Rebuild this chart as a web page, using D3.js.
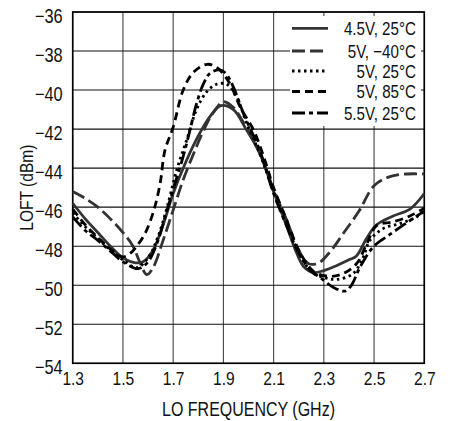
<!DOCTYPE html>
<html>
<head>
<meta charset="utf-8">
<script src="https://cdn.jsdelivr.net/npm/d3@7"></script>
<style>
  body { margin: 0; background: #fff; }
  text { font-family: "Liberation Sans", Arial, sans-serif; fill: #111; }
</style>
</head>
<body>
<div class="container"></div>
<script>
const WIDTH = 450;
const HEIGHT = 421;
const NARROW = "scale(0.82,1)";

// ticks
var xTicks = [1.3, 1.5, 1.7, 1.9, 2.1, 2.3, 2.5, 2.7];
var yTicks = [-54, -52, -50, -48, -46, -44, -42, -40, -38, -36];

// 4.5V, 25°C
var freqA = [1.3, 1.35, 1.4, 1.45, 1.5, 1.55, 1.58, 1.62, 1.66, 1.7, 1.75, 1.8, 1.85, 1.89, 1.94, 1.99, 2.045, 2.1, 2.15, 2.19, 2.22, 2.26, 2.3, 2.35, 2.4, 2.43, 2.47, 2.51, 2.576, 2.643, 2.7];
var loftA = [-45.8, -46.6, -47.3, -48.0, -48.6, -48.85, -48.8, -48.2, -46.9, -45.3, -43.7, -42.35, -41.3, -40.8, -41.0, -42.0, -43.25, -45.2, -46.9, -48.3, -49.05, -49.35, -49.25, -49.0, -48.7, -48.5, -47.6, -46.9, -46.45, -46.1, -45.3];

// 5V, -40°C
var freqB = [1.3, 1.35, 1.4, 1.45, 1.5, 1.54, 1.57, 1.595, 1.62, 1.66, 1.7, 1.74, 1.78, 1.82, 1.86, 1.9, 1.94, 1.99, 2.05, 2.1, 2.15, 2.2, 2.24, 2.28, 2.33, 2.38, 2.44, 2.5, 2.56, 2.63, 2.7];
var loftB = [-45.2, -45.55, -46.0, -46.6, -47.3, -48.0, -48.9, -49.45, -49.1, -47.7, -46.15, -44.6, -43.3, -42.1, -41.15, -40.6, -40.9, -41.9, -43.4, -45.1, -46.6, -48.2, -48.9, -48.85, -48.2, -47.3, -46.2, -44.9, -44.45, -44.3, -44.3];

// 5V, 25°C
var freqC = [1.3, 1.35, 1.4, 1.45, 1.5, 1.555, 1.6, 1.64, 1.68, 1.714, 1.754, 1.793, 1.833, 1.873, 1.913, 1.953, 1.99, 2.04, 2.1, 2.15, 2.2, 2.25, 2.3, 2.35, 2.417, 2.457, 2.483, 2.536, 2.603, 2.669, 2.7];
var loftC = [-46.3, -47.0, -47.6, -48.2, -48.7, -49.1, -48.6, -47.5, -45.8, -44.1, -42.55, -41.0, -40.1, -39.7, -39.7, -40.35, -41.6, -43.1, -45.2, -46.8, -48.3, -49.3, -49.6, -49.7, -49.4, -48.55, -47.7, -47.1, -46.84, -46.5, -46.2];

// 5V, 85°C
var freqD = [1.3, 1.35, 1.4, 1.45, 1.5, 1.535, 1.555, 1.588, 1.621, 1.648, 1.667, 1.7, 1.74, 1.78, 1.835, 1.875, 1.925, 1.966, 2.02, 2.06, 2.1, 2.15, 2.2, 2.26, 2.325, 2.377, 2.43, 2.47, 2.51, 2.576, 2.643, 2.7];
var loftD = [-46.1, -46.9, -47.55, -48.15, -48.55, -48.3, -48.0, -47.35, -46.25, -44.8, -43.1, -41.9, -40.0, -39.1, -38.68, -38.85, -39.65, -40.85, -42.05, -43.4, -45.0, -46.6, -48.2, -49.3, -49.55, -49.4, -48.9, -47.9, -46.95, -46.75, -46.45, -46.05];

// 5.5V, 25°C
var freqE = [1.3, 1.35, 1.4, 1.45, 1.5, 1.56, 1.6, 1.64, 1.67, 1.7, 1.74, 1.767, 1.793, 1.82, 1.846, 1.885, 1.91, 1.94, 1.98, 2.045, 2.1, 2.15, 2.2, 2.25, 2.285, 2.337, 2.384, 2.41, 2.443, 2.496, 2.563, 2.63, 2.7];
var loftE = [-46.5, -47.2, -47.7, -48.25, -48.8, -49.15, -48.8, -47.7, -46.4, -45.1, -43.4, -42.05, -40.7, -39.7, -39.15, -38.97, -39.15, -39.85, -41.2, -43.1, -45.3, -46.9, -48.35, -49.3, -49.6, -50.1, -50.3, -50.0, -49.1, -48.05, -47.4, -46.8, -46.2];

var seriesNames = ["4.5V, 25°C", "5V, −40°C", "5V, 25°C", "5V, 85°C", "5.5V, 25°C"];
var seriesFreq = [freqA, freqB, freqC, freqD, freqE];
var seriesLoft = [loftA, loftB, loftC, loftD, loftE];

var styles = [
    {color: "#333", dash: null},
    {color: "#333", dash: "13,5"},
    {color: "#000", dash: "2.5,3.5"},
    {color: "#000", dash: "8,5"},
    {color: "#000", dash: "13,4,4,4"}
];

var load = function(){
    var svg = d3.select(".container")
        .append("svg")
        .attr("width", WIDTH)
        .attr("height", HEIGHT);

    var left = 72.7, right = 424.3, top = 12, bottom = 363.3;

    var x_scale = d3.scaleLinear().domain([1.3, 2.7]).range([left, right]);
    var y_scale = d3.scaleLinear().domain([-54, -36]).range([bottom, top]);

    // grid
    svg.append("g").selectAll("line.v")
        .data(xTicks)
        .enter().append("line")
        .attr("x1", function(d){ return x_scale(d); })
        .attr("x2", function(d){ return x_scale(d); })
        .attr("y1", top).attr("y2", bottom)
        .style("stroke", "#444").style("stroke-width", 1.1);

    svg.append("g").selectAll("line.h")
        .data(yTicks)
        .enter().append("line")
        .attr("x1", left).attr("x2", right)
        .attr("y1", function(d){ return y_scale(d); })
        .attr("y2", function(d){ return y_scale(d); })
        .style("stroke", "#111").style("stroke-width", 1.1);

    // legend box covers grid
    svg.append("rect")
        .attr("x", 290).attr("y", 16)
        .attr("width", 131).attr("height", 110)
        .style("fill", "#fff");

    // frame
    svg.append("rect")
        .attr("x", left).attr("y", top)
        .attr("width", right - left).attr("height", bottom - top)
        .style("fill", "none").style("stroke", "#000").style("stroke-width", 1.6);

    // curves
    var line = d3.line()
        .x(function(d){ return x_scale(d[0]); })
        .y(function(d){ return y_scale(d[1]); })
        .curve(d3.curveCatmullRom.alpha(0.5));

    seriesFreq.forEach(function(fr, i){
        var pts = fr.map(function(f, j){ return [f, seriesLoft[i][j]]; });
        svg.append("path")
            .datum(pts)
            .attr("d", line)
            .style("fill", "none")
            .style("stroke", styles[i].color)
            .style("stroke-width", 2.8)
            .style("stroke-dasharray", styles[i].dash);
    });

    // axes
    var xAxis = svg.append("g")
        .attr("transform", "translate(0," + bottom + ")")
        .call(d3.axisBottom(x_scale).tickValues(xTicks).tickSize(0).tickPadding(8).tickFormat(d3.format(".1f")));
    xAxis.select(".domain").remove();
    xAxis.selectAll("text").style("font-size", "19px").style("fill", "#111").attr("transform", NARROW);

    var yAxis = svg.append("g")
        .attr("transform", "translate(" + (left - 10) + ",0)")
        .call(d3.axisLeft(y_scale).tickValues(yTicks).tickSize(0).tickPadding(0).tickFormat(d3.format("d")));
    yAxis.select(".domain").remove();
    yAxis.selectAll("text").style("font-size", "20px").attr("dy", "0.5em").style("fill", "#111").attr("transform", NARROW);

    svg.append("text")
        .attr("transform", "translate(" + ((left + right) / 2) + ",416) " + NARROW)
        .attr("text-anchor", "middle")
        .style("font-size", "19.5px")
        .text("LO FREQUENCY (GHz)");

    svg.append("text")
        .attr("transform", "translate(33," + ((top + bottom) / 2) + ") rotate(-90) " + NARROW)
        .attr("text-anchor", "middle")
        .style("font-size", "19px")
        .text("LOFT (dBm)");

    // legend
    var legendY = [28.3, 51, 71, 91.5, 113];
    var lg = svg.append("g").selectAll("g")
        .data(seriesNames)
        .enter().append("g")
        .attr("transform", function(d, i){ return "translate(0," + legendY[i] + ")"; });

    lg.append("line")
        .attr("x1", 292).attr("x2", 328)
        .style("stroke", function(d, i){ return styles[i].color; })
        .style("stroke-width", 2.8)
        .style("stroke-dasharray", function(d, i){ return styles[i].dash; });

    lg.append("text")
        .attr("transform", "translate(416,0) " + NARROW)
        .attr("dy", "0.36em")
        .attr("text-anchor", "end")
        .style("font-size", "18.5px")
        .text(function(d){ return d; });
};

window.onload = load;
</script>
</body>
</html>
